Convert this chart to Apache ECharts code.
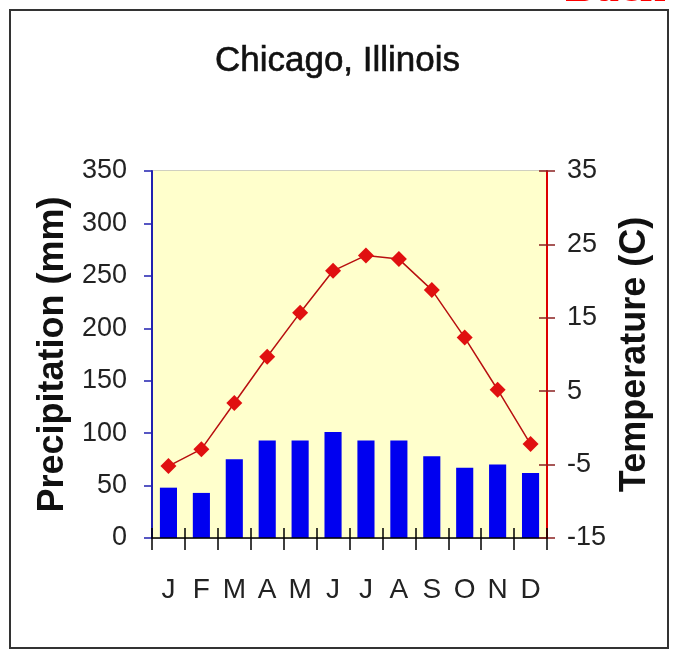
<!DOCTYPE html>
<html>
<head>
<meta charset="utf-8">
<script src="https://cdn.jsdelivr.net/npm/echarts@6/dist/echarts.min.js"></script>
<style>
html,body{margin:0;padding:0;background:#fff;}
#chart{width:675px;height:651px;}
</style>
</head>
<body>
<div id="chart"></div>
<script>
const months = ['J','F','M','A','M','J','J','A','S','O','N','D'];
const precipitation = [48, 43, 75, 93, 93, 101, 93, 93, 78, 67, 70, 62];
const temperature = [-5.2, -2.9, 3.4, 9.7, 15.7, 21.4, 23.5, 23.0, 18.8, 12.3, 5.2, -2.2];
const precipTicks = {min: 0, max: 350, interval: 50};
const tempTicks = {min: -15, max: 35, interval: 10};

const sans = '"Liberation Sans", Arial, sans-serif';
const chart = echarts.init(document.getElementById('chart'));
chart.setOption({
  animation: false,
  backgroundColor: '#ffffff',
  title: {
    text: 'Chicago, Illinois',
    left: 'center',
    top: 39,
    textStyle: {fontFamily: sans, fontSize: 35, fontWeight: 'normal', color: '#111', textBorderColor: '#111', textBorderWidth: 0.6}
  },
  graphic: [
    {type: 'rect', shape: {x: 10, y: 10, width: 658, height: 638}, style: {fill: 'none', stroke: '#333', lineWidth: 2}, z: -1},
    {type: 'text', right: 10, top: -34, style: {text: 'Back', fill: '#ff0000', font: 'bold 46px "Liberation Serif", serif'}}
  ],
  grid: {left: 152, top: 171, right: 128, bottom: 113, show: true, backgroundColor: 'transparent', borderColor: '#a0a080', borderWidth: 1},
  xAxis: [
    {
      type: 'category', data: months, position: 'bottom',
      axisLine: {onZero: false, lineStyle: {color: '#000', width: 1.5}},
      axisTick: {show: true, length: 12, lineStyle: {color: '#000', width: 1.5}},
      axisLabel: {interval: 0, fontFamily: sans, fontSize: 28, color: '#222', margin: 38},
      splitLine: {show: false},
      z: 3
    },
    {
      type: 'category', data: months, position: 'bottom',
      axisLine: {show: false, onZero: true, onZeroAxisIndex: 0},
      axisTick: {show: true, inside: false, interval: 0, length: -10, lineStyle: {color: '#000', width: 1.5}},
      axisLabel: {show: false},
      splitLine: {show: false},
      z: 3
    }
  ],
  yAxis: [
    {
      type: 'value', position: 'left', min: precipTicks.min, max: precipTicks.max, interval: precipTicks.interval,
      name: 'Precipitation (mm)', nameLocation: 'middle', nameRotate: 90, nameGap: 72,
      nameTextStyle: {fontFamily: sans, fontSize: 36, fontWeight: 'bold', color: '#111'},
      axisLine: {show: true, lineStyle: {color: '#2020b0', width: 2}},
      axisTick: {show: true, length: 8, lineStyle: {color: '#2020b0', width: 1.5}},
      axisLabel: {fontFamily: sans, fontSize: 27, color: '#222', margin: 25},
      splitLine: {show: false},
      splitArea: {show: true, areaStyle: {color: ['#ffffcc']}},
      z: 1
    },
    {
      type: 'value', position: 'right', min: tempTicks.min, max: tempTicks.max, interval: tempTicks.interval,
      name: 'Temperature (C)', nameLocation: 'middle', nameRotate: 90, nameGap: 60,
      nameTextStyle: {fontFamily: sans, fontSize: 36, fontWeight: 'bold', color: '#111'},
      axisLine: {show: true, lineStyle: {color: '#dd0000', width: 2}},
      axisTick: {show: true, length: 8, lineStyle: {color: '#8a2020', width: 1.5}},
      axisLabel: {fontFamily: sans, fontSize: 27, color: '#222', margin: 20},
      splitLine: {show: false},
      z: 3
    },
    {
      type: 'value', position: 'right', min: tempTicks.min, max: tempTicks.max, interval: tempTicks.interval,
      axisLine: {show: false},
      axisTick: {show: true, inside: true, length: 8, lineStyle: {color: '#8a2020', width: 1.5}},
      axisLabel: {show: false},
      splitLine: {show: false},
      z: 3
    }
  ],
  series: [
    {
      type: 'bar', data: precipitation, xAxisIndex: 0, yAxisIndex: 0, barWidth: '52%',
      itemStyle: {color: '#0000f0'}
    },
    {
      type: 'line', data: temperature, xAxisIndex: 0, yAxisIndex: 1,
      symbol: 'diamond', symbolSize: 16,
      lineStyle: {color: '#b81010', width: 1.5},
      itemStyle: {color: '#e01010'}
    }
  ]
});
</script>
</body>
</html>
